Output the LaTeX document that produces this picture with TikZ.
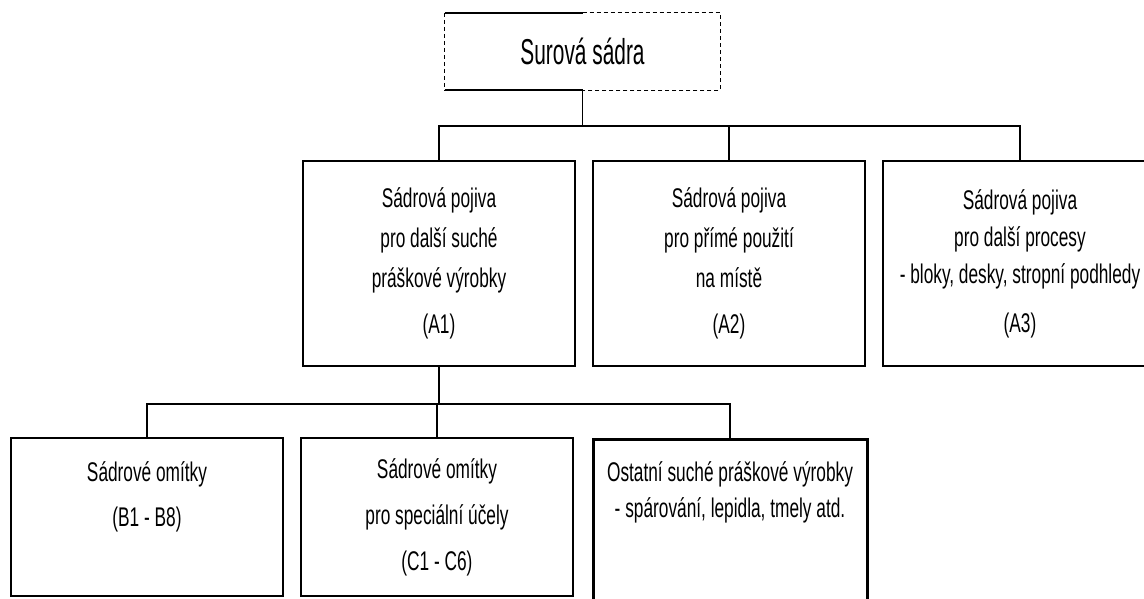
\documentclass[tikz,border=0pt]{standalone}
\usepackage{fontspec}
\setmainfont{Liberation Sans}
\newfontfamily\uzke[FakeStretch=0.64]{Liberation Sans}
\newfontfamily\uzkehorni[FakeStretch=0.58]{Liberation Sans}
\usepackage{tikz}
\usetikzlibrary{positioning}
\tikzset{
linka/.style={line width=1.5pt},
kasten/.style={rectangle,draw,line width=1.5pt,inner sep=0pt,align=center,minimum width=272pt,
  font=\uzke\fontsize{27}{40}\selectfont},
kastentlusty/.style={kasten,line width=3pt},
popis/.style={inner sep=0pt,align=center,font=\uzke\fontsize{27}{36}\selectfont},
carky/.style={line width=1.3pt,dash pattern=on 4pt off 3pt}}

\begin{document}
\begin{tikzpicture}[x=1pt,y=-1pt]

\useasboundingbox (0,0) rectangle (1144,598);
\clip (0,0) rectangle (1144,598);

\node[inner sep=0pt,minimum width=275pt,minimum height=77pt,font=\uzkehorni\fontsize{36}{40}\selectfont] (surova) at (582.5,51.5) {Surová sádra};
\draw[carky] (surova.north) -- (surova.north east) -- (surova.south east) -- (surova.south);
\draw[carky] (surova.north west) -- (surova.south west);
\draw[linka] (surova.north west) -- (surova.north);
\draw[linka] (surova.south west) -- (surova.south);

\node[kasten,minimum height=205pt] (a1) at (439,263.5) {Sádrová pojiva\\pro další suché\\práškové výrobky\\[6pt](A1)};
\node[kasten,minimum height=205pt] (a2) at (729,263.5) {Sádrová pojiva\\pro přímé použití\\na místě\\[6pt](A2)};
\node[kasten,minimum width=274pt,minimum height=205pt,font=\uzke\fontsize{27}{37}\selectfont] (a3) at (1020,263.5) {Sádrová pojiva\\pro další procesy\\- bloky, desky, stropní podhledy\\[12pt](A3)};

\node[kasten,minimum height=158pt,font=\uzke\fontsize{27}{45}\selectfont] (b) at (147,517) {Sádrové omítky\\(B1 - B8)\\ };
\node[kasten,minimum height=158pt,font=\uzke\fontsize{27}{46}\selectfont] (c) at (437,517) {Sádrové omítky\\pro speciální účely\\(C1 - C6)};
\node[kastentlusty,minimum width=274pt,minimum height=180pt] (d) at (730,529) {};
\node[popis,below=24pt of d.north] (dtext) {Ostatní suché práškové výrobky\\- spárování, lepidla, tmely atd.};

\draw[linka] (surova.south) -- ++(0,36) -| (a1.north);
\draw[linka] (surova.south) -- ++(0,36) -| (a2.north);
\draw[linka] (surova.south) -- ++(0,36) -| (a3.north);

\draw[linka] (a1.south) -- ++(0,37) -| (b.north);
\draw[linka] (a1.south) -- ++(0,37) -| (c.north);
\draw[linka] (a1.south) -- ++(0,37) -| (d.north);

\end{tikzpicture}
\end{document}
